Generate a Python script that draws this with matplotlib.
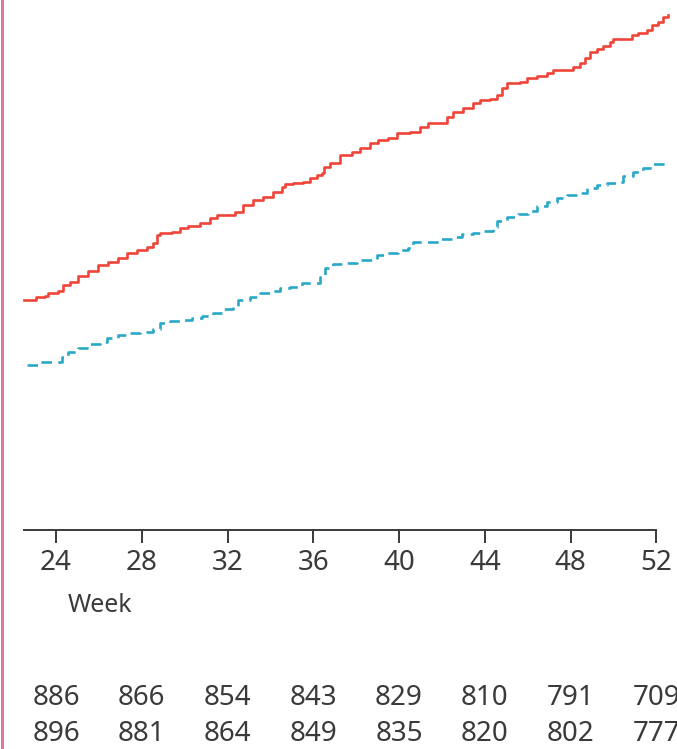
import matplotlib
matplotlib.use("Agg")
import matplotlib.pyplot as plt
from matplotlib.lines import Line2D
from matplotlib.transforms import blended_transform_factory

plt.rcParams['font.family'] = ['Noto Sans', 'DejaVu Sans']

# red (solid) step curve: week, cumulative value
red_week = [22.51, 22.97, 23.07, 23.49, 23.63, 24.09, 24.33, 24.65, 25.03, 25.49,
            25.96, 26.43, 26.89, 27.31, 27.78, 28.24, 28.52, 28.71, 28.85, 29.41,
            29.78, 30.16, 30.72, 31.18, 31.51, 32.02, 32.35, 32.72, 33.19, 33.65,
            34.12, 34.54, 34.68, 35.05, 35.52, 35.85, 36.17, 36.41, 36.50, 36.78,
            37.25, 37.81, 38.18, 38.65, 39.02, 39.49, 39.90, 40.51, 40.98, 41.35,
            42.00, 42.24, 42.52, 42.98, 43.45, 43.78, 44.24, 44.57, 44.80, 45.04,
            45.64, 45.97, 46.43, 46.90, 47.18, 47.83, 48.11, 48.44, 48.67, 48.91,
            49.23, 49.51, 49.84, 49.98, 50.68, 50.87, 51.15, 51.57, 51.80, 52.08,
            52.32, 52.55]
red_val = [23.0, 23.0, 23.3, 23.4, 23.7, 23.9, 24.5, 24.8, 25.4, 25.9,
           26.5, 26.8, 27.2, 27.7, 28.0, 28.3, 28.7, 29.5, 29.7, 29.8,
           30.2, 30.4, 30.7, 31.2, 31.5, 31.5, 31.8, 32.5, 33.0, 33.3,
           33.8, 34.3, 34.6, 34.7, 34.8, 35.2, 35.5, 35.7, 36.3, 36.7,
           37.5, 37.8, 38.2, 38.7, 39.0, 39.2, 39.7, 39.8, 40.3, 40.7,
           40.7, 41.3, 41.8, 42.2, 42.7, 43.0, 43.1, 43.5, 44.2, 44.7,
           44.8, 45.2, 45.4, 45.7, 46.0, 46.0, 46.3, 46.7, 47.2, 47.8,
           48.1, 48.4, 48.8, 49.1, 49.1, 49.5, 49.7, 50.0, 50.5, 50.8,
           51.3, 51.5]

# blue (dashed) step curve
blue_week = [22.65, 23.25, 24.05, 24.28, 24.56, 25.03, 25.45, 26.05, 26.38, 26.89,
             27.45, 27.92, 28.52, 28.85, 29.32, 29.88, 30.34, 30.81, 31.32, 31.74,
             32.26, 32.49, 33.05, 33.51, 33.98, 34.45, 34.91, 35.47, 35.99, 36.31,
             36.55, 36.92, 37.48, 38.04, 38.55, 38.97, 39.44, 39.95, 40.42, 40.65,
             41.30, 41.91, 42.47, 42.94, 43.45, 43.92, 44.38, 44.57, 45.04, 45.55,
             46.01, 46.43, 46.90, 47.37, 47.83, 48.30, 48.77, 49.23, 49.70, 50.17,
             50.45, 50.91, 51.38, 51.85, 52.41]
blue_val = [16.5, 16.8, 16.8, 17.3, 17.8, 18.2, 18.6, 18.8, 19.2, 19.5,
            19.7, 19.8, 20.1, 20.7, 20.9, 21.0, 21.2, 21.4, 21.7, 22.1,
            22.4, 23.0, 23.3, 23.7, 23.9, 24.2, 24.3, 24.7, 24.7, 25.3,
            26.2, 26.6, 26.7, 27.0, 27.0, 27.5, 27.7, 28.0, 28.2, 28.8,
            28.8, 29.1, 29.3, 29.6, 29.7, 29.9, 30.3, 30.9, 31.3, 31.6,
            31.9, 32.4, 32.8, 33.2, 33.5, 33.7, 34.2, 34.5, 34.7, 34.8,
            35.4, 35.8, 36.2, 36.6, 36.7]

weeks = [24, 28, 32, 36, 40, 44, 48, 52]
at_risk_red = [886, 866, 854, 843, 829, 810, 791, 709]
at_risk_blue = [896, 881, 864, 849, 835, 820, 802, 777]

red = '#f04438'
blue = '#2aa8c8'
grey = '#3a3a3a'

fig = plt.figure(figsize=(6.77, 7.49), dpi=100)
ax = fig.add_axes([0, 219 / 749, 1, 530 / 749])

ax.step(red_week, red_val, where='post', color=red, lw=1.9)
ax.step(blue_week, blue_val, where='post', color=blue, lw=1.9,
        linestyle=(0, (4.0, 2.4)))

ax.set_xlim(21.388, 52.964)
ax.set_ylim(0, 53)
for s in ['top', 'right', 'left']:
    ax.spines[s].set_visible(False)
ax.spines['bottom'].set_bounds(22.51, 52)
ax.spines['bottom'].set_color(grey)
ax.spines['bottom'].set_linewidth(1.4)
ax.set_yticks([])
ax.set_xticks(weeks)
ax.tick_params(axis='x', length=9.5, width=1.4, color=grey, pad=4,
               labelsize=20, labelcolor=grey)

fig.text(68 / 677, 1 - 605 / 749, 'Week', fontsize=18, color=grey,
         ha='left', va='center')

tr = blended_transform_factory(ax.transData, fig.transFigure)
for w, a, b in zip(weeks, at_risk_red, at_risk_blue):
    ax.text(w, 1 - 698 / 749, str(a), transform=tr, ha='center', va='center',
            fontsize=20, color=grey, clip_on=False)
    ax.text(w, 1 - 734 / 749, str(b), transform=tr, ha='center', va='center',
            fontsize=20, color=grey, clip_on=False)

# pink frame edge on the left
fig.add_artist(Line2D([2 / 677, 2 / 677], [0, 1], transform=fig.transFigure,
                      color='#dd7896', lw=2.2))

fig.savefig('out.png', dpi=100)
